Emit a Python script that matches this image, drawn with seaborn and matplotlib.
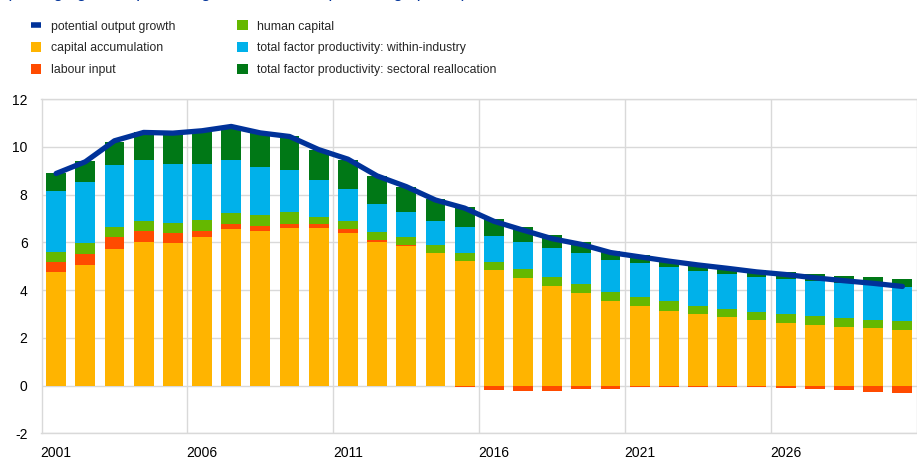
import matplotlib
matplotlib.use("Agg")
import matplotlib.pyplot as plt
import numpy as np
import pandas as pd
import seaborn as sns
from matplotlib.lines import Line2D
from matplotlib.patches import Patch

# Data (percentage points)
years = list(range(2001, 2031))
capital = [4.75, 5.05, 5.70, 6.01, 5.97, 6.22, 6.55, 6.46, 6.61, 6.61,
           6.39, 6.01, 5.86, 5.55, 5.20, 4.84, 4.50, 4.16, 3.87, 3.54,
           3.33, 3.14, 2.98, 2.85, 2.73, 2.63, 2.53, 2.46, 2.39, 2.33]
labour = [0.42, 0.47, 0.51, 0.45, 0.40, 0.24, 0.23, 0.22, 0.17, 0.14,
          0.18, 0.08, 0.01, -0.02, -0.06, -0.18, -0.21, -0.22, -0.15, -0.13,
          -0.08, -0.07, -0.06, -0.07, -0.07, -0.11, -0.14, -0.19, -0.27, -0.32]
human = [0.43, 0.43, 0.44, 0.44, 0.45, 0.47, 0.46, 0.46, 0.49, 0.31,
         0.31, 0.35, 0.36, 0.33, 0.33, 0.35, 0.36, 0.37, 0.39, 0.39,
         0.36, 0.38, 0.37, 0.36, 0.37, 0.37, 0.38, 0.36, 0.36, 0.38]
tfp_within = [2.55, 2.58, 2.57, 2.55, 2.46, 2.36, 2.21, 2.01, 1.76, 1.55,
              1.35, 1.18, 1.05, 1.00, 1.11, 1.06, 1.16, 1.24, 1.27, 1.33,
              1.44, 1.43, 1.46, 1.46, 1.44, 1.46, 1.45, 1.47, 1.44, 1.43]
tfp_realloc = [0.75, 0.86, 1.00, 1.15, 1.29, 1.41, 1.42, 1.44, 1.40, 1.26,
               1.22, 1.16, 1.05, 0.92, 0.82, 0.72, 0.62, 0.52, 0.48, 0.39,
               0.33, 0.28, 0.22, 0.19, 0.28, 0.29, 0.31, 0.29, 0.34, 0.33]
potential = [8.88, 9.37, 10.25, 10.60, 10.57, 10.67, 10.85, 10.58, 10.43, 9.88,
             9.48, 8.78, 8.33, 7.77, 7.43, 6.88, 6.51, 6.15, 5.91, 5.57,
             5.39, 5.21, 5.05, 4.91, 4.76, 4.65, 4.51, 4.39, 4.28, 4.15]

labels = ["potential output growth", "capital accumulation", "labour input",
          "human capital", "total factor productivity: within-industry",
          "total factor productivity: sectoral reallocation"]
colors = ["#003299", "#FFB400", "#FF4B00", "#65B800", "#00B1EA", "#007816"]
subtitle = "(average growth, percentage contributions, percentage points)"

df = pd.DataFrame({"year": years, "capital": capital, "labour": labour,
                   "human": human, "within": tfp_within,
                   "realloc": tfp_realloc, "potential": potential})

# stacking bottoms: positive parts pile up, negative labour hangs below zero
lab_pos = df["labour"].clip(lower=0)
bottoms = {
    "capital": np.zeros(len(df)),
    "labour": np.where(df["labour"] > 0, df["capital"], 0.0),
    "human": (df["capital"] + lab_pos).to_numpy(),
}
bottoms["within"] = bottoms["human"] + df["human"].to_numpy()
bottoms["realloc"] = bottoms["within"] + df["within"].to_numpy()

sns.set_style("white")
plt.rcParams["font.family"] = ["Liberation Sans", "DejaVu Sans"]
plt.rcParams["axes.unicode_minus"] = False

W, H = 917, 459
fig = plt.figure(figsize=(W / 100, H / 100), dpi=100)
ax = fig.add_axes([41.5 / W, (H - 433.3) / H, (W - 41.5) / W, (433.3 - 99) / H])

for col, c in zip(["capital", "labour", "human", "within", "realloc"], colors[1:]):
    sns.barplot(data=df, x="year", y=col, bottom=bottoms[col], native_scale=True,
                width=0.68, color=c, saturation=1, errorbar=None, linewidth=0, ax=ax)

sns.lineplot(data=df, x="year", y="potential", color=colors[0], lw=3.8,
             solid_capstyle="round", ax=ax, zorder=5)

ax.set_xlim(2000.5, 2030.18)
ax.set_ylim(-2, 12)
ax.set_yticks(np.arange(-2, 13, 2))
ax.set_xticks(years[::5])
ax.set_xticks(np.arange(2000.5, 2031, 5), minor=True)
ax.set_xlabel("")
ax.set_ylabel("")
ax.set_axisbelow(True)
ax.grid(which="major", axis="y", color="#d9d9d9", lw=1)
ax.grid(which="minor", axis="x", color="#d9d9d9", lw=1)
ax.tick_params(which="both", length=0, labelsize=10, colors="black")
ax.tick_params(axis="y", pad=10)
ax.tick_params(axis="x", pad=9)
for s in ["left", "top", "bottom"]:
    ax.spines[s].set_color("#d9d9d9")
    ax.spines[s].set_linewidth(1)
ax.spines["right"].set_visible(False)

handles = [Line2D([], [], color=colors[0], lw=4, solid_capstyle="butt")] + \
          [Patch(facecolor=c, edgecolor="none") for c in colors[1:]]
fig.legend(handles, labels, ncol=2, loc="upper left",
           bbox_to_anchor=(31 / W, 1 - 20.5 / H), frameon=False, fontsize=8.8,
           handlelength=0.85, handleheight=0.85, handletextpad=0.75,
           columnspacing=5.1, labelspacing=0.8, borderpad=0, borderaxespad=0)

# first line of the note runs off the top edge in the reference; only its
# descenders show
fig.text(6 / W, 1 + 2 / H, subtitle, fontsize=12, color="#003299", va="baseline")

fig.savefig("out.png", dpi=100)
